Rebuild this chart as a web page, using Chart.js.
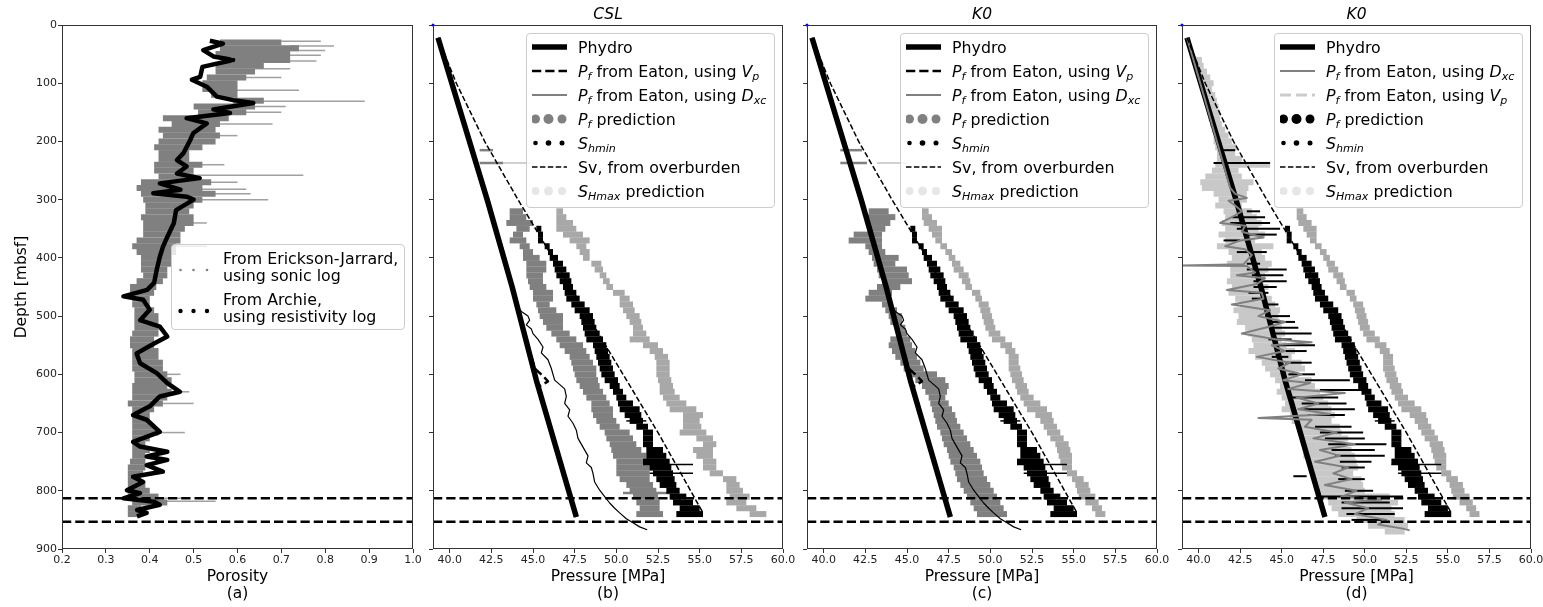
<!DOCTYPE html>
<html>
<head>
<meta charset="utf-8">
<script src="https://cdn.jsdelivr.net/npm/chart.js@4.4.1/dist/chart.umd.min.js"></script>
<style>
  body { margin: 0; width: 1543px; height: 607px; overflow: hidden; background: #fff; font-family: 'DejaVu Sans', sans-serif; }
  canvas { position: absolute; top: 0; }
  .leg { position: absolute; box-sizing: border-box; background: rgba(255,255,255,0.8); border: 1px solid #cccccc;
         border-radius: 4px; font-size: 15.8px; color: #000; z-index: 5; }
  .row { display: flex; align-items: center; white-space: nowrap; }
  .row svg { flex: none; }
  .txt { line-height: 17px; }
  sub { font-size: 70%; vertical-align: -0.28em; line-height: 0; }
</style>
</head>
<body>
<canvas id="cA" width="430" height="607" style="left:0px"></canvas>
<canvas id="cB" width="390" height="607" style="left:413px"></canvas>
<canvas id="cC" width="390" height="607" style="left:787px"></canvas>
<canvas id="cD" width="390" height="607" style="left:1162px"></canvas>
<div class="leg" id="legA" style="left:171px;top:244px;width:234px;height:86px;padding-top:5px"></div>
<div class="leg" id="legB" style="left:526px;top:33px;width:249px;height:175px;padding-top:1px"></div>
<div class="leg" id="legC" style="left:900px;top:33px;width:249px;height:175px;padding-top:1px"></div>
<div class="leg" id="legD" style="left:1274px;top:33px;width:249px;height:175px;padding-top:1px"></div>
<script>
// ticks
var depthTicks = [0, 100, 200, 300, 400, 500, 600, 700, 800, 900];
var porosityTicks = [0.2, 0.3, 0.4, 0.5, 0.6, 0.7, 0.8, 0.9, 1.0];
var pressureTicks = [40, 42.5, 45, 47.5, 50, 52.5, 55, 57.5, 60];
var reservoirDepths = [813, 853];
var originPoint = [39, 0];

// (a) porosity, Erickson-Jarrard (sonic) band
var ejDepth = [30,40,50,60,70,80,90,100,110,120,130,140,150,160,170,180,190,200,210,220,230,240,250,260,270,280,290,300,310,320,330,340,350,360,370,380,390,400,410,420,430,440,450,460,470,480,490,500,510,520,530,540,550,560,570,580,590,600,610,620,630,640,650,660,670,680,690,700,710,720,730,740,750,760,770,780,790,800,810,820,830,840];
var ejLo = [.56,.56,.55,.59,.55,.55,.53,.52,.52,.54,.59,.50,.51,.43,.45,.42,.43,.42,.41,.42,.42,.41,.41,.42,.38,.37,.38,.385,.39,.39,.38,.385,.385,.385,.37,.36,.37,.38,.38,.38,.385,.37,.355,.355,.36,.36,.365,.365,.365,.365,.36,.355,.355,.36,.36,.36,.36,.365,.365,.36,.36,.36,.35,.36,.36,.36,.36,.36,.36,.36,.36,.36,.355,.35,.35,.35,.35,.35,.35,.36,.35,.35];
var ejHi = [.70,.74,.72,.72,.66,.64,.62,.60,.60,.60,.66,.64,.62,.58,.56,.55,.56,.55,.52,.49,.49,.52,.50,.50,.54,.52,.55,.52,.50,.49,.50,.50,.48,.47,.47,.46,.46,.45,.45,.44,.44,.43,.415,.41,.40,.40,.41,.42,.42,.42,.42,.41,.41,.42,.42,.43,.43,.44,.45,.44,.45,.44,.43,.41,.40,.40,.41,.42,.40,.39,.40,.39,.39,.39,.385,.38,.39,.40,.42,.44,.38,.38];
var ejStreakDepth = [28,36,44,52,62,75,90,112,131,140,150,170,190,240,258,270,282,290,300,340,380,600,630,650,700,813,818];
var ejStreakLo = [.70,.72,.72,.70,.70,.64,.60,.58,.64,.62,.60,.55,.54,.50,.48,.52,.50,.53,.50,.48,.44,.42,.43,.43,.41,.39,.40];
var ejStreakHi = [.79,.82,.80,.79,.78,.72,.70,.74,.89,.71,.70,.68,.60,.57,.75,.60,.62,.63,.67,.53,.53,.47,.49,.50,.48,.48,.55];
// (a) porosity, Archie (resistivity)
var archieDepth = [27,32,43,54,60,72,89,94,106,123,129,134,145,151,160,169,186,198,220,232,243,255,263,272,283,289,295,300,318,340,364,381,398,420,443,455,466,472,489,507,518,535,547,564,581,598,615,630,638,655,670,678,699,716,724,733,741,747,756,767,776,785,799,804,813,819,824,833,838,844];
var archiePor = [.537,.567,.522,.545,.59,.52,.515,.496,.53,.553,.59,.636,.545,.583,.484,.53,.499,.492,.477,.462,.484,.462,.514,.423,.47,.408,.485,.50,.46,.455,.44,.43,.423,.416,.41,.394,.34,.385,.40,.378,.423,.44,.41,.37,.378,.416,.44,.469,.423,.40,.362,.393,.423,.362,.378,.44,.393,.44,.393,.43,.362,.385,.348,.378,.34,.41,.423,.371,.393,.371];

// pressures (b)-(d)
var hydroDepth = [22, 300, 450, 610, 845];
var hydroP = [39.3, 42.25, 43.75, 45.2, 47.6];
var svDepth = [22, 100, 200, 300, 400, 500, 600, 700, 838];
var svP = [39.3, 40.4, 42.1, 44.1, 46.2, 48.3, 50.4, 52.5, 55.2];
var vpDepth = [22, 300, 450, 590, 603, 612, 622, 845];
var vpP = [39.3, 42.25, 43.75, 45.1, 45.6, 45.9, 45.3, 47.6];
var dxcDepth = [485,492,500,507,515,522,530,540,553,563,575,590,600,610,625,638,650,661,672,684,696,710,725,740,752,760,770,785,799,810,821,830,838,848,855,862,867];
var dxcP = [44.1,44.3,44.7,44.8,44.6,44.9,45.0,45.3,45.6,45.5,45.9,46.1,46.2,46.3,46.9,47.0,46.9,47.2,47.1,47.4,47.6,47.7,48.0,48.3,48.2,48.5,48.6,48.7,49.0,49.3,49.6,49.9,50.2,50.6,51.0,51.4,51.85];

var gridB = [320,330,340,350,360,370,380,390,400,410,420,430,440,450,460,470,480,490,500,510,520,530,540,550,560,570,580,590,600,610,620,630,640,650,660,670,680,690,700,710,720,730,740,750,760,770,780,790,800,810,820,830,840];
var pfBLo = [43.6,43.6,43.4,44.0,43.8,43.6,44.2,44.4,44.4,44.6,44.6,44.6,44.7,44.8,45.0,45.0,45.2,45.3,45.4,45.6,45.8,46.1,46.4,46.6,46.9,47.2,47.3,47.4,47.5,47.6,47.8,48.0,48.2,48.5,48.5,48.6,48.8,49.0,49.3,49.4,49.6,49.7,49.8,50.0,50.0,50.0,50.2,50.6,50.8,51.0,51.2,51.4,51.2];
var pfBHi = [44.4,44.6,45.0,44.8,44.4,44.6,44.8,45.0,45.4,45.8,45.8,45.6,45.6,45.8,46.2,46.2,46.0,46.4,46.8,46.8,46.8,47.2,47.6,48.0,48.2,48.4,48.6,48.8,48.8,48.9,49.0,49.2,49.4,49.6,49.8,49.8,50.0,50.2,50.8,51.0,51.2,51.5,51.8,52.0,52.2,52.0,52.0,52.2,52.4,52.5,52.6,52.6,52.8];
var pfBStreakDepth = [215, 237, 804];
var pfBStreakLo = [41.8, 41.8, 50.4];
var pfBStreakHi = [42.6, 43.2, 53.2];
var shmaxBLo = [46.4,46.4,46.4,46.4,46.8,47.2,47.6,47.8,48.0,48.5,48.7,49.0,49.2,49.4,49.8,50.2,50.2,50.4,50.6,50.8,51.0,51.0,50.8,51.6,52.0,52.3,52.4,52.4,52.4,52.5,52.6,52.6,52.8,53.0,53.2,54.0,54.0,54.0,53.8,54.8,55.2,54.6,54.8,55.2,55.2,55.6,56.4,56.6,56.6,56.8,56.6,57.2,58.0];
var shmaxBHi = [46.8,47.0,47.4,47.6,48.0,48.4,48.2,48.4,48.4,49.1,49.2,49.4,49.6,49.8,50.5,50.8,51.0,51.1,51.4,51.5,51.6,51.8,52.0,52.5,52.8,53.1,53.2,53.2,53.2,53.3,53.4,53.5,53.8,54.2,54.8,55.2,55.0,55.1,55.4,55.8,56.0,55.8,55.8,56.0,56.0,56.4,57.2,57.4,57.6,58.0,57.8,58.4,59.0];
var shmaxStreakDepth = [237];
var shmaxStreakLo = [43.2];
var shmaxStreakHi = [45.0];

var shminDepth = [350,360,370,380,390,400,410,420,430,440,450,460,470,480,490,500,510,520,530,540,550,560,570,580,590,600,610,620,630,640,650,660,670,680,690,700,710,720,730,740,750,760,770,780,790,800,810,820,830,840];
var shminLo = [45.2,45.3,45.3,45.7,45.9,46.0,46.2,46.3,46.4,46.6,46.8,46.9,47.0,47.3,47.5,47.8,47.9,48.0,48.1,48.2,48.6,48.7,48.8,48.9,49.0,49.1,49.3,49.6,49.8,50.0,50.1,50.2,50.5,50.8,51.2,51.6,51.6,51.6,51.8,51.8,51.6,52.0,52.2,52.4,52.6,53.0,53.2,53.4,53.8,53.6];
var shminHi = [45.5,45.6,45.6,46.0,46.2,46.5,46.8,47.0,47.2,47.3,47.4,47.6,47.8,48.1,48.4,48.6,48.7,48.8,49.0,49.2,49.4,49.5,49.6,49.7,49.8,49.9,50.1,50.2,50.4,50.6,51.0,51.4,51.5,51.6,51.9,52.2,52.2,52.2,52.8,53.0,53.2,53.3,53.4,53.5,53.6,53.8,54.2,54.6,55.0,55.2];
var shminStreakDepth = [680, 755, 770];
var shminStreakLo = [50.6, 51.6, 52.0];
var shminStreakHi = [51.8, 54.6, 54.6];

var shmaxK0Lo = [45.9,45.9,46.0,46.3,46.5,46.7,47.0,47.3,47.5,47.7,47.8,48.1,48.3,48.5,48.9,49.1,49.3,49.4,49.5,49.6,49.7,49.9,50.1,50.6,50.9,51.1,51.1,51.1,51.2,51.3,51.5,51.6,51.8,52.0,52.2,52.7,53.0,53.2,53.4,53.6,53.9,54.0,54.1,54.2,54.3,54.6,54.9,55.1,55.2,55.3,55.7,56.1,56.3];
var shmaxK0Hi = [46.3,46.5,46.8,47.1,47.1,47.1,47.4,47.7,47.9,48.2,48.4,48.7,48.8,48.9,49.4,49.5,49.9,50.0,50.1,50.2,50.3,50.6,50.9,51.3,51.5,51.7,51.7,51.8,51.9,52.0,52.2,52.3,52.6,53.0,53.4,53.7,53.8,54.0,54.2,54.4,54.7,54.8,54.9,54.9,54.9,55.2,55.6,55.9,56.0,56.3,56.5,56.7,56.9];
var pfCLo = [42.7,42.5,42.6,42.7,41.8,41.5,42.5,42.7,42.9,43.0,43.2,43.3,43.5,43.2,42.7,42.5,43.5,43.7,43.9,44.0,44.4,44.4,44.0,43.9,44.1,44.3,44.6,44.8,45.2,45.5,45.9,46.1,46.3,46.4,46.5,46.6,46.7,46.8,47.0,47.1,47.2,47.4,47.5,47.6,47.8,47.9,48.0,48.2,48.4,48.6,48.8,49.0,49.2];
var pfCHi = [43.9,44.3,44.0,43.7,43.5,43.5,43.5,43.7,44.5,44.3,45.0,45.1,45.3,44.6,44.1,43.8,44.1,44.4,44.7,44.7,44.9,45.0,45.2,45.3,45.5,45.6,45.8,46.0,46.8,47.3,47.5,47.4,47.3,47.5,47.7,47.9,48.0,48.2,48.4,48.6,48.8,49.0,49.2,49.4,49.5,49.6,49.8,50.0,50.2,50.4,50.6,50.8,51.0];
var pfCStreakDepth = [215, 237];
var pfCStreakLo = [41.0, 41.0];
var pfCStreakHi = [42.3, 42.6];

// (d)
var vpDDepth = [60,70,80,90,100,110,120,130,140,150,160,170,180,190,200,210,220,230,240,250,260,270,280,290,300,310,320,330,340,350,360,370,380,390,400,410,420,430,440,450,460,470,480,490,500,510,520,530,540,550,560,570,580,590,600,610,620,630,640,650,660,670,680,690,700,710,720,730,740,750,760,770,780,790,800,810,820,830,840,850,860,870];
var vpDLo = [39.7,39.8,39.9,40.0,40.1,40.2,40.3,40.4,40.5,40.5,40.6,40.7,40.8,40.9,40.9,41.0,41.1,41.1,41.0,40.8,40.4,40.1,40.2,40.9,41.2,41.0,41.5,41.6,41.4,41.6,41.2,41.6,41.1,41.8,42.0,41.7,41.9,41.9,41.7,42.0,41.8,42.2,42.5,42.1,42.4,42.3,42.8,43.0,43.2,43.3,43.0,43.4,43.8,44.0,44.3,44.6,44.9,44.7,45.0,45.2,45.0,45.5,45.6,45.9,46.0,46.1,46.3,46.4,46.3,46.6,46.7,46.8,46.9,47.0,47.2,47.4,47.8,48.0,48.4,49.5,50.2,51.2];
var vpDHi = [40.2,40.3,40.5,40.7,40.9,40.8,41.0,41.1,41.2,41.3,41.3,41.4,41.6,41.8,42.0,42.3,42.2,42.6,44.3,42.4,42.6,43.3,43.0,42.9,42.9,42.6,43.2,43.5,43.8,43.6,44.0,43.4,44.5,43.8,44.0,44.4,44.2,44.0,43.9,44.2,44.0,44.4,44.6,44.9,44.8,44.9,45.0,45.2,45.0,45.3,45.8,45.6,46.2,46.4,46.0,46.8,47.0,47.3,47.5,47.8,48.0,48.2,48.0,48.5,48.6,49.0,48.8,49.2,49.4,49.5,49.6,49.3,49.8,49.9,50.0,51.5,52.0,51.6,51.8,52.4,52.6,52.4];
var dxcDDepth = [22,100,200,250,280,290,297,302,310,320,330,340,345,355,365,370,380,385,395,411,413,414,425,430,435,445,455,460,470,480,490,500,510,520,530,540,545,550,560,570,580,590,600,610,615,625,632,640,650,660,668,675,678,690,700,710,720,730,740,750,760,770,780,790,800,810,815,820,830,840,850,858,865,868];
var dxcDP = [39.3,40.1,41.1,41.6,41.9,42.2,42.9,41.8,42.2,42.6,42.0,41.3,42.8,42.6,43.9,42.5,41.6,42.8,43.2,42.7,39.0,42.9,43.4,42.3,44.0,43.5,41.7,43.8,43.9,42.0,44.3,43.6,45.2,44.0,42.6,44.7,46.8,44.4,45.2,43.5,45.5,44.8,46.2,45.1,46.7,45.4,48.8,45.9,47.2,46.0,47.9,43.6,46.8,46.4,48.3,46.9,49.4,47.3,48.5,47.0,49.0,48.1,49.2,47.6,49.5,48.6,51.0,48.8,50.2,49.4,51.3,50.8,52.3,52.7];
var pfDDepth = [215,237,320,330,340,350,360,370,390,410,420,430,440,450,460,470,480,500,510,520,530,540,550,560,570,580,600,610,627,640,650,660,670,690,700,710,720,730,740,750,760,775,780,800,810,820,830,840,850];
var pfDLo = [41.3,40.9,42.9,42.0,41.9,42.3,42.9,41.5,42.3,42.9,42.9,43.2,43.3,43.3,43.0,43.2,43.9,44.0,44.3,44.4,44.5,44.2,44.6,45.0,44.4,45.2,45.4,46.4,47.3,45.6,46.2,46.3,46.6,47.0,47.3,47.6,47.8,48.0,48.2,48.5,48.6,45.7,48.4,48.8,47.2,48.6,48.6,48.9,49.2];
var pfDHi = [42.2,44.3,43.7,44.0,44.3,44.9,44.7,42.5,44.1,43.7,45.3,45.1,45.3,44.7,44.2,44.0,44.8,45.5,45.8,46.0,46.8,45.6,47.0,46.5,45.4,46.8,47.0,49.1,50.0,48.4,48.9,49.4,48.8,49.2,49.9,50.0,51.3,50.6,51.2,50.4,50.0,46.5,50.0,50.5,52.3,51.5,52.3,51.8,51.0];

var GRAY = '#808080';
var SHMAX = '#a8a8a8';

Chart.defaults.font.family = "'DejaVu Sans', sans-serif";
Chart.defaults.color = '#000';

var frame = {
  id: 'frame',
  afterDatasetsDraw: function (chart) {
    var a = chart.chartArea, ctx = chart.ctx;
    ctx.save();
    ctx.strokeStyle = '#333';
    ctx.lineWidth = 1;
    ctx.strokeRect(Math.round(a.left) + 0.5, Math.round(a.top) + 0.5, Math.round(a.right - a.left) - 1, Math.round(a.bottom - a.top) - 1);
    ctx.restore();
  }
};

function band(depths, lo, hi, color, thick, order) {
  return {
    type: 'bar', indexAxis: 'y', grouped: false, order: order,
    data: depths.map(function (d, i) { return {y: d, x: [lo[i], hi[i]]}; }),
    backgroundColor: color, borderWidth: 0, barThickness: thick, inflateAmount: 0
  };
}

function curve(depths, vals, color, width, dash, order) {
  return {
    type: 'scatter', showLine: true, order: order,
    data: depths.map(function (d, i) { return {x: vals[i], y: d}; }),
    borderColor: color, borderWidth: width, borderDash: dash || [],
    pointRadius: 0, pointHitRadius: 0, fill: false, tension: 0,
    borderCapStyle: 'butt', borderJoinStyle: 'round'
  };
}

function reservoir(xMin, xMax) {
  return reservoirDepths.map(function (d) { return curve([d, d], [xMin, xMax], '#000', 2.5, [9.25, 4], 1); });
}

function origin() {
  return {type: 'scatter', order: 0, clip: false, data: [{x: originPoint[0], y: originPoint[1]}],
          pointRadius: 1.5, backgroundColor: 'blue', borderWidth: 0};
}

function panelOptions(p) {
  var tickFont = {size: 11};
  var grid = {drawOnChartArea: false, drawTicks: true, tickLength: 4, color: '#333', offset: false};
  return {
    responsive: false, animation: false, events: [],
    layout: {padding: p.padding},
    plugins: {
      legend: {display: false},
      tooltip: {enabled: false},
      title: p.title ? {display: true, text: p.title, fullSize: false, color: '#000',
                        font: {size: 15.5, style: 'italic', weight: 'normal', lineHeight: 1.2}, padding: {top: 6, bottom: 0.4}}
                     : {display: false}
    },
    scales: {
      x: {
        type: 'linear', min: p.xMin, max: p.xMax, offset: false, beginAtZero: false,
        afterBuildTicks: function (s) { s.ticks = p.xTicks.map(function (v) { return {value: v}; }); },
        afterFit: function (s) { s.height = 58; },
        grid: grid, border: {display: false},
        ticks: {font: tickFont, color: '#222', padding: 1, maxRotation: 0, autoSkip: false,
                callback: function (v) { return Number(v).toFixed(1); }},
        title: {display: true, text: p.xTitle, color: '#000', font: {size: 15.5, lineHeight: 1.13}, padding: {top: 0, bottom: 4}}
      },
      y: {
        type: 'linear', reverse: true, min: 0, max: 900, offset: false,
        afterBuildTicks: function (s) { s.ticks = depthTicks.map(function (v) { return {value: v}; }); },
        afterFit: function (s) { s.width = p.yWidth; },
        grid: grid, border: {display: false},
        ticks: {font: tickFont, color: '#222', padding: 1, autoSkip: false,
                callback: function (v) { return p.yLabels ? String(v) : ''; }},
        title: p.yTitle ? {display: true, text: p.yTitle, color: '#000', font: {size: 15.5, lineHeight: 1.13}, padding: {top: 13, bottom: 0}}
                        : {display: false}
      }
    }
  };
}

// (a)
new Chart(document.getElementById('cA'), {
  type: 'scatter',
  data: {datasets: [
    band(ejDepth, ejLo, ejHi, GRAY, 6, 6),
    band(ejStreakDepth, ejStreakLo, ejStreakHi, 'rgba(128,128,128,0.75)', 1.5, 5),
    curve(archieDepth, archiePor, '#000', 4.5, null, 3)
  ].concat(reservoir(0.2, 1.0))},
  options: panelOptions({padding: {left: 0, right: 17, top: 25, bottom: 0}, yWidth: 62, yLabels: true,
                         yTitle: 'Depth [mbsf]', xMin: 0.2, xMax: 1.0, xTicks: porosityTicks, xTitle: ['Porosity', '(a)']}),
  plugins: [frame]
});

// (b) CSL
new Chart(document.getElementById('cB'), {
  type: 'scatter',
  data: {datasets: [
    band(gridB, shmaxBLo, shmaxBHi, SHMAX, 6, 12),
    band(shmaxStreakDepth, shmaxStreakLo, shmaxStreakHi, '#d0d0d0', 2, 12),
    band(gridB, pfBLo, pfBHi, GRAY, 6, 11),
    band(pfBStreakDepth, pfBStreakLo, pfBStreakHi, GRAY, 2.5, 11),
    band(shminDepth, shminLo, shminHi, '#000', 6, 10),
    band(shminStreakDepth, shminStreakLo, shminStreakHi, '#000', 1.5, 10),
    curve(vpDepth, vpP, '#000', 2.5, [9.25, 4], 8),
    curve(dxcDepth, dxcP, '#000', 1.2, null, 7),
    curve(hydroDepth, hydroP, '#000', 5.5, null, 6),
    curve(svDepth, svP, '#000', 1.5, [5.5, 2.4], 5),
    origin()
  ].concat(reservoir(39, 60))},
  options: panelOptions({padding: {left: 0, right: 20, top: 0, bottom: 0}, yWidth: 20, yLabels: false, title: 'CSL',
                         xMin: 39, xMax: 60, xTicks: pressureTicks, xTitle: ['Pressure [MPa]', '(b)']}),
  plugins: [frame]
});

// (c) K0
new Chart(document.getElementById('cC'), {
  type: 'scatter',
  data: {datasets: [
    band(gridB, shmaxK0Lo, shmaxK0Hi, SHMAX, 6, 12),
    band(shmaxStreakDepth, shmaxStreakLo, shmaxStreakHi, '#d0d0d0', 2, 12),
    band(gridB, pfCLo, pfCHi, GRAY, 6, 11),
    band(pfCStreakDepth, pfCStreakLo, pfCStreakHi, GRAY, 2.5, 11),
    band(shminDepth, shminLo, shminHi, '#000', 6, 10),
    band(shminStreakDepth, shminStreakLo, shminStreakHi, '#000', 1.5, 10),
    curve(vpDepth, vpP, '#000', 2.5, [9.25, 4], 8),
    curve(dxcDepth, dxcP, '#000', 1.2, null, 7),
    curve(hydroDepth, hydroP, '#000', 5.5, null, 6),
    curve(svDepth, svP, '#000', 1.5, [5.5, 2.4], 5),
    origin()
  ].concat(reservoir(39, 60))},
  options: panelOptions({padding: {left: 0, right: 20, top: 0, bottom: 0}, yWidth: 20, yLabels: false, title: 'K0',
                         xMin: 39, xMax: 60, xTicks: pressureTicks, xTitle: ['Pressure [MPa]', '(c)']}),
  plugins: [frame]
});

// (d) K0
new Chart(document.getElementById('cD'), {
  type: 'scatter',
  data: {datasets: [
    band(vpDDepth, vpDLo, vpDHi, '#c8c8c8', 6, 13),
    band(gridB, shmaxK0Lo, shmaxK0Hi, SHMAX, 6, 12),
    band(shminDepth, shminLo, shminHi, '#000', 6, 10),
    band(shminStreakDepth, shminStreakLo, shminStreakHi, '#000', 1.5, 10),
    band(pfDDepth, pfDLo, pfDHi, '#000', 2, 9),
    curve(hydroDepth, hydroP, '#000', 5.5, null, 8),
    curve(dxcDDepth, dxcDP, GRAY, 2, null, 7),
    curve(svDepth, svP, '#000', 1.5, [5.5, 2.4], 5),
    origin()
  ].concat(reservoir(39, 60))},
  options: panelOptions({padding: {left: 0, right: 21, top: 0, bottom: 0}, yWidth: 20, yLabels: false, title: 'K0',
                         xMin: 39, xMax: 60, xTicks: pressureTicks, xTitle: ['Pressure [MPa]', '(d)']}),
  plugins: [frame]
});

// legends (html, for the math subscripts)
function lineHandle(color, width, dash, h) {
  return '<svg width="36" height="' + h + '"><line x1="0" y1="' + (h / 2) + '" x2="35" y2="' + (h / 2) +
         '" stroke="' + color + '" stroke-width="' + width + '"' + (dash ? ' stroke-dasharray="' + dash + '"' : '') + '/></svg>';
}
function dotsHandle(color, radii, h, cy) {
  var xs = [3.5, 16.5, 30];
  var c = radii.map(function (r, i) { return '<circle cx="' + xs[i] + '" cy="' + (cy || h / 2) + '" r="' + r + '" fill="' + color + '"/>'; }).join('');
  return '<svg width="36" height="' + h + '">' + c + '</svg>';
}
function buildLegend(id, entries, rowH, gap) {
  document.getElementById(id).innerHTML = entries.map(function (e, i) {
    return '<div class="row" style="height:' + rowH + 'px;margin-left:5px;' + (i > 0 && gap ? 'margin-top:' + gap + 'px' : '') + '">' +
           e[0] + '<span class="txt" style="margin-left:10px">' + e[1] + '</span></div>';
  }).join('');
}
var Pf = '<i>P<sub>f</sub></i>';
buildLegend('legA', [
  [dotsHandle(GRAY, [1.3, 1.3, 1.3], 34, 20), 'From Erickson-Jarrard,<br>using sonic log'],
  [dotsHandle('#000', [2.2, 2.2, 2.2], 34, 20), 'From Archie,<br>using resistivity log']
], 34, 7);
var legBC = [
  [lineHandle('#000', 5.5, null, 24), 'Phydro'],
  [lineHandle('#000', 2.5, '9.25 4', 24), Pf + ' from Eaton, using <i>V<sub>p</sub></i>'],
  [lineHandle('#000', 1.2, null, 24), Pf + ' from Eaton, using <i>D<sub>xc</sub></i>'],
  [dotsHandle(GRAY, [4.5, 5, 4.5], 24), Pf + ' prediction'],
  [dotsHandle('#000', [2.3, 2.8, 2.5], 24), '<i>S<sub>hmin</sub></i>'],
  [lineHandle('#000', 1.5, '5.5 2.4', 24), 'Sv, from overburden'],
  [dotsHandle('#e6e6e6', [4, 4.5, 4], 24), '<i>S<sub>Hmax</sub></i> prediction']
];
buildLegend('legB', legBC, 24);
buildLegend('legC', legBC, 24);
buildLegend('legD', [
  [lineHandle('#000', 5.5, null, 24), 'Phydro'],
  [lineHandle(GRAY, 2, null, 24), Pf + ' from Eaton, using <i>D<sub>xc</sub></i>'],
  [lineHandle('#cccccc', 3, '11 5', 24), Pf + ' from Eaton, using <i>V<sub>p</sub></i>'],
  [dotsHandle('#000', [4.5, 5, 4.5], 24), Pf + ' prediction'],
  [dotsHandle('#000', [2.3, 2.8, 2.5], 24), '<i>S<sub>hmin</sub></i>'],
  [lineHandle('#000', 1.5, '5.5 2.4', 24), 'Sv, from overburden'],
  [dotsHandle('#e6e6e6', [4, 4.5, 4], 24), '<i>S<sub>Hmax</sub></i> prediction']
], 24);
</script>
</body>
</html>
